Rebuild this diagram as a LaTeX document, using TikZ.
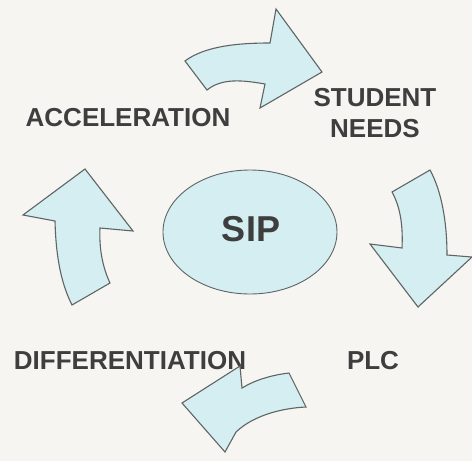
\documentclass[tikz,border=0pt]{standalone}
\usepackage{fontspec}
\setmainfont{Liberation Sans}
\begin{document}
\begin{tikzpicture}[x=1pt,y=-1pt,
  bentarrow/.style={fill=arrowfill,draw=edgegray,line width=1.1pt,line join=miter},
  caption/.style={font=\fontsize{26}{30}\selectfont\bfseries,text=labelgray,inner sep=0pt,align=center}]
\definecolor{paper}{RGB}{247,245,242}
\definecolor{arrowfill}{RGB}{212,238,241}
\definecolor{edgegray}{RGB}{95,100,100}
\definecolor{labelgray}{RGB}{62,62,62}
\fill[paper] (0,0) rectangle (472,461);
\useasboundingbox (0,0) rectangle (472,461);

% labels around the cycle
\node[caption] (acc) at (128,118) {ACCELERATION};
\node[caption] (needs) at (375,113) {STUDENT\\[1pt]NEEDS};
\node[caption] (diff) at (130,361) {DIFFERENTIATION};
\node[caption] (plc) at (373,361) {PLC};

% curved arrow at the top, pointing right
\draw[bentarrow] (185,61) .. controls (205,46) and (238,43) .. (270,43)
  -- (276,9) -- (322,72) -- (260,108) -- (265,84)
  .. controls (242,80) and (222,78) .. (207,90) -- cycle;

% curved arrow at the right, pointing down
\draw[bentarrow] (392,192) -- (430,170)
  .. controls (441,190) and (447,220) .. (447,255)
  -- (472,257) -- (418,307) -- (370,244) -- (402,248)
  .. controls (403,228) and (401,208) .. cycle;

% curved arrow at the bottom, pointing left (its head overlaps the label)
\draw[bentarrow] (289,373) -- (306,407)
  .. controls (285,408) and (255,414) .. (236,432)
  -- (225,452) -- (182,403) -- (240,366) -- (242,388)
  .. controls (255,380) and (272,375) .. cycle;

% curved arrow at the left, pointing up
\draw[bentarrow] (85,169) -- (133,231) -- (100,228)
  .. controls (99,250) and (103,268) .. (110,283)
  -- (72,305)
  .. controls (62,285) and (56,260) .. (55,221)
  -- (23,215) -- cycle;

% centre ellipse
\draw[bentarrow,line width=0.9pt] (250,232) ellipse [x radius=87,y radius=62];
\node[caption,font=\fontsize{36}{40}\selectfont\bfseries] (sip) at (251,229) {SIP};
\end{tikzpicture}
\end{document}
